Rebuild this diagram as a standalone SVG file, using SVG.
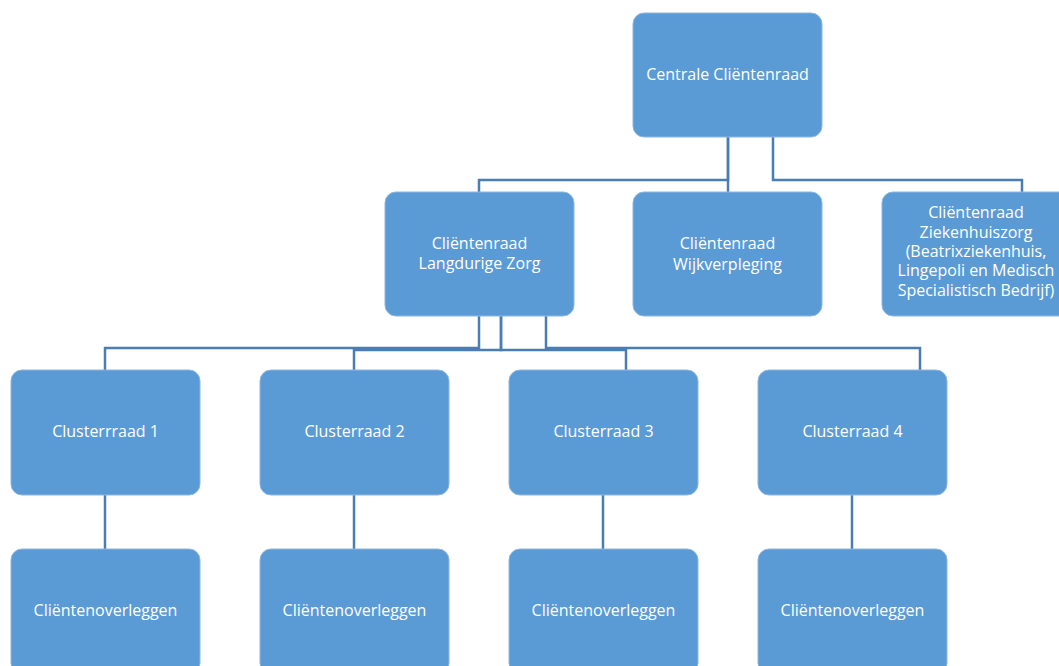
<svg xmlns="http://www.w3.org/2000/svg" width="1059" height="666" viewBox="0 0 1059 666">
<style>
.box{fill:#5B9BD5;stroke:#8DB6E0;stroke-width:1}
.t{font-family:"Open Sans","Liberation Sans",Arial,sans-serif;font-size:16px;fill:#FFFFFF;text-anchor:middle}
.c{fill:none;stroke:#4A7EB3;stroke-width:2.5}
</style>
<rect width="1059" height="666" fill="#FFFFFF"/>
<g id="connectors">
<path class="c" d="M728 137V180H479V192"/>
<path class="c" d="M728 137V192"/>
<path class="c" d="M773 137V180H1022V192"/>
<path class="c" d="M479 316V348H105V370"/>
<path class="c" d="M501 316V350H354V370"/>
<path class="c" d="M501 316V350H626V370"/>
<path class="c" d="M546 316V348H920V370"/>
<path class="c" d="M105 495V549"/>
<path class="c" d="M354 495V549"/>
<path class="c" d="M603 495V549"/>
<path class="c" d="M852 495V549"/>
</g>
<g id="centrale"><rect class="box" x="633" y="13" width="189" height="124" rx="11"/><text class="t" x="727.5" y="80">Centrale Cliëntenraad</text></g>
<g id="langdurig"><rect class="box" x="385" y="192" width="189" height="124" rx="11"/><text class="t" x="479.5" y="249">Cliëntenraad</text><text class="t" x="479.5" y="269">Langdurige Zorg</text></g>
<g id="wijk"><rect class="box" x="633" y="192" width="189" height="124" rx="11"/><text class="t" x="727.5" y="249">Cliëntenraad</text><text class="t" x="727.5" y="270">Wijkverpleging</text></g>
<g id="ziekenhuis"><rect class="box" x="882" y="192" width="189" height="124" rx="11"/><text class="t" x="976" y="218">Cliëntenraad</text><text class="t" x="976" y="238">Ziekenhuiszorg</text><text class="t" x="976" y="257">(Beatrixziekenhuis,</text><text class="t" x="976" y="276">Lingepoli en Medisch</text><text class="t" x="976" y="296">Specialistisch Bedrijf)</text></g>
<g id="cluster1"><rect class="box" x="11" y="370" width="189" height="125" rx="11"/><text class="t" x="105.5" y="437">Clusterrraad 1</text></g>
<g id="cluster2"><rect class="box" x="260" y="370" width="189" height="125" rx="11"/><text class="t" x="354.5" y="437">Clusterraad 2</text></g>
<g id="cluster3"><rect class="box" x="509" y="370" width="189" height="125" rx="11"/><text class="t" x="603.5" y="437">Clusterraad 3</text></g>
<g id="cluster4"><rect class="box" x="758" y="370" width="189" height="125" rx="11"/><text class="t" x="852.5" y="437">Clusterraad 4</text></g>
<g id="overleg1"><rect class="box" x="11" y="549" width="189" height="125" rx="11"/><text class="t" x="105.5" y="616">Cliëntenoverleggen</text></g>
<g id="overleg2"><rect class="box" x="260" y="549" width="189" height="125" rx="11"/><text class="t" x="354.5" y="616">Cliëntenoverleggen</text></g>
<g id="overleg3"><rect class="box" x="509" y="549" width="189" height="125" rx="11"/><text class="t" x="603.5" y="616">Cliëntenoverleggen</text></g>
<g id="overleg4"><rect class="box" x="758" y="549" width="189" height="125" rx="11"/><text class="t" x="852.5" y="616">Cliëntenoverleggen</text></g>
</svg>
